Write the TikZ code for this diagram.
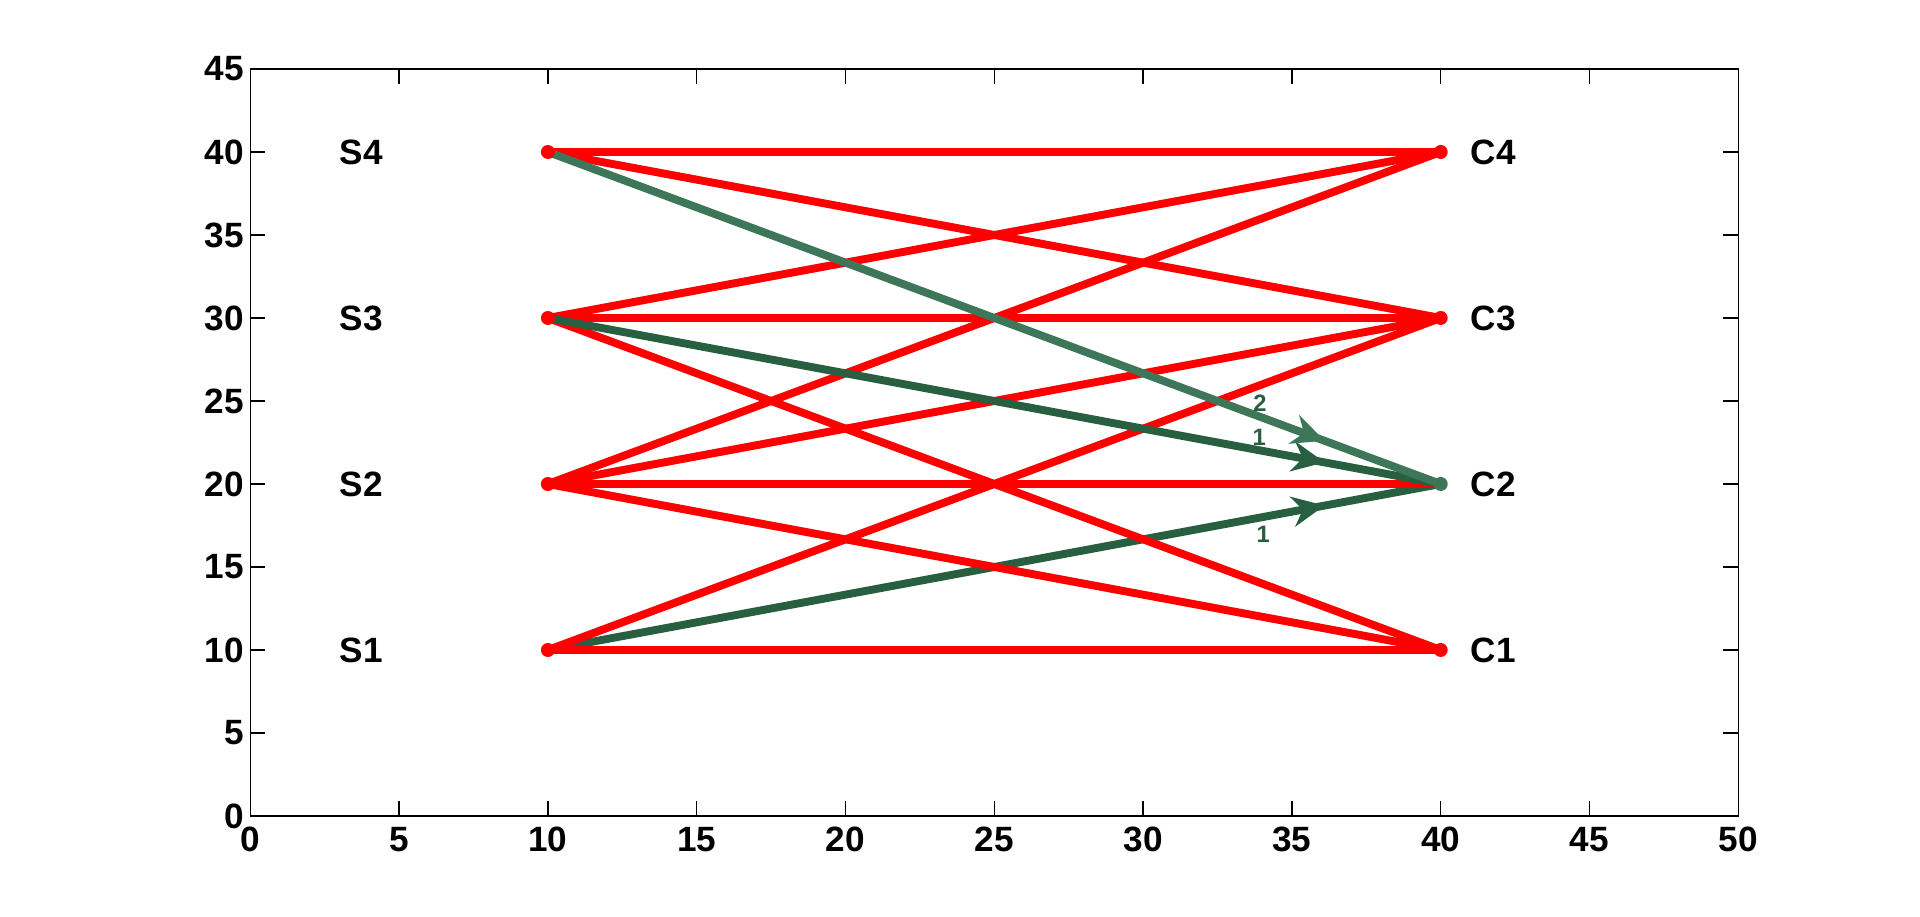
\documentclass[tikz,border=0pt]{standalone}
\usepackage{fontspec}
\setmainfont{Liberation Sans}
\usetikzlibrary{arrows.meta,decorations.markings,calc}

\definecolor{linkred}{RGB}{255,0,0}
\definecolor{flowdark}{RGB}{40,95,65}
\definecolor{flowlight}{RGB}{62,118,90}

\begin{document}
\begin{tikzpicture}[x=0.5952cm,y=0.332cm,
    font=\bfseries\fontsize{20}{24}\selectfont,
    link/.style={line width=4.5pt,color=linkred},
    flow/.style={line width=4.5pt,postaction={decorate},
        decoration={markings,mark=at position 0.87 with {\arrow{Stealth[length=0.66cm,width=0.62cm,inset=0.22cm,line width=0pt]}}}},
    dot/.style={circle,fill=#1,inner sep=0pt,minimum size=0.28cm},
    ticklab/.style={inner sep=0pt},
    flowlab/.style={inner sep=0pt,text=flowdark,font=\bfseries\fontsize{13.5}{16}\selectfont}]
    %Frame of the picture (margins as in the plot)%
    %===========================================================
    \useasboundingbox (-5.006cm,-2.02cm) rectangle ++(38.4cm,18.34cm);
    \def \Xmax {50}; %Right end of x axis
    \def \Ymax {45}; %Top end of y axis
    \def \Tick {0.3cm}; %Length of the tick marks
    %Axes box with ticks and labels%
    %===========================================================
    \draw[line width=0.7pt] (0,0) rectangle (\Xmax,\Ymax);
    \foreach \x in {0,5,...,50}{
        \draw[line width=0.7pt] (\x,0) -- ++(0,\Tick);
        \draw[line width=0.7pt] (\x,\Ymax) -- ++(0,-\Tick);
        \node[ticklab,anchor=north] (xt\x) at ($(\x,0)+(0,-0.22cm)$) {\x};
    }
    \foreach \y in {0,5,...,45}{
        \draw[line width=0.7pt] (0,\y) -- ++(\Tick,0);
        \draw[line width=0.7pt] (\Xmax,\y) -- ++(-\Tick,0);
        \node[ticklab,anchor=east] (yt\y) at ($(0,\y)+(-0.12cm,0)$) {\y};
    }
    %Sources and customers%
    %===========================================================
    \foreach \i in {1,...,4}{
        \coordinate (s\i) at (10,10*\i); %Source end
        \coordinate (c\i) at (40,10*\i); %Customer end
        \node[ticklab,anchor=west] (slab\i) at (3,10*\i) {S\i};
        \node[ticklab,anchor=west] (clab\i) at (41,10*\i) {C\i};
    }
    %Links, drawn source by source%
    %===========================================================
    \draw[flow,color=flowdark] (s1) -- (c2); %S1 to C2
    \draw[link] (s1) -- (c1);
    \draw[link] (s1) -- (c3);
    \foreach \j in {1,...,4}{
        \draw[link] (s2) -- (c\j); %S2 to every customer
    }
    \draw[link] (s3) -- (c1);
    \draw[link] (s3) -- (c3);
    \draw[link] (s3) -- (c4);
    \draw[flow,color=flowdark] (s3) -- (c2); %S3 to C2
    \draw[link] (s4) -- (c4);
    \draw[link] (s4) -- (c3);
    \draw[flow,color=flowlight] (s4) -- (c2); %S4 to C2
    %Flow amounts%
    \node[flowlab] (amount4) at (33.93,24.86) {2};
    \node[flowlab] (amount3) at (33.9,22.8) {1};
    \node[flowlab] (amount1) at (34.04,16.99) {1};
    %End points%
    %===========================================================
    \foreach \i in {1,...,4}{
        \node[dot=linkred] (sdot\i) at (s\i) {};
    }
    \node[dot=linkred] (cdot1) at (c1) {};
    \node[dot=flowlight] (cdot2) at (c2) {};
    \node[dot=linkred] (cdot3) at (c3) {};
    \node[dot=linkred] (cdot4) at (c4) {};
\end{tikzpicture}
\end{document}
